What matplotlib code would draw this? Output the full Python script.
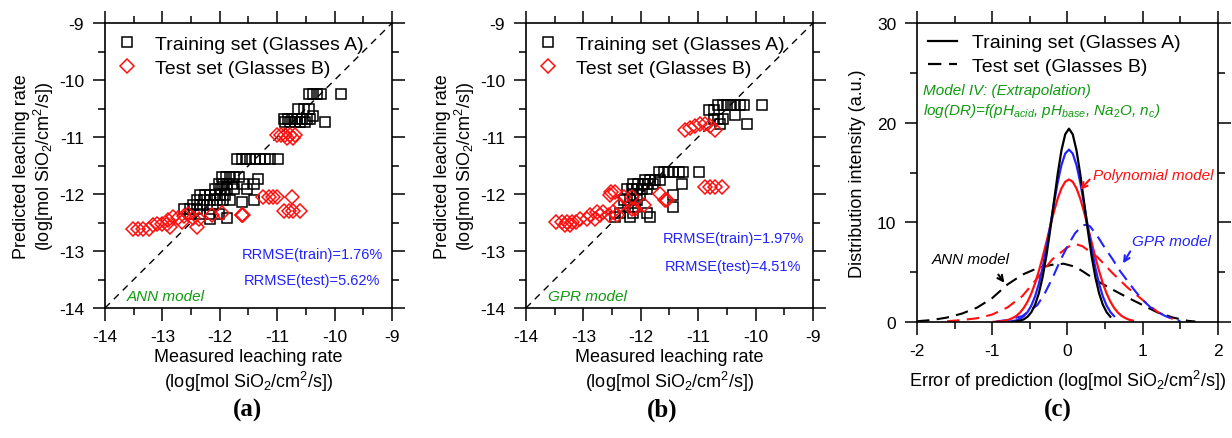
import matplotlib
matplotlib.use("Agg")
import matplotlib.pyplot as plt
from matplotlib.lines import Line2D
from matplotlib.ticker import MultipleLocator

plt.rcParams['font.family'] = ['Liberation Sans', 'DejaVu Sans']
plt.rcParams['mathtext.fontset'] = 'custom'
plt.rcParams['mathtext.rm'] = 'Liberation Sans'
plt.rcParams['mathtext.it'] = 'Liberation Sans:italic'
plt.rcParams['axes.unicode_minus'] = False

# ---- panel (a): ANN model, measured vs predicted ----
ann_train_meas = [-10.45, -10.38, -10.31, -10.23, -9.89,
                  -10.63, -10.54, -10.45,
                  -10.89, -10.82, -10.74, -10.66, -10.57, -10.48, -10.42,
                  -10.86, -10.77, -10.69, -10.60, -10.51, -10.16, -10.37,
                  -11.70, -11.62, -11.54, -11.47, -11.38, -11.30, -11.21, -11.12, -10.99,
                  -11.97, -11.89, -11.82, -11.75, -11.67, -11.33,
                  -12.02, -11.94, -11.87, -11.79, -11.59, -11.41,
                  -12.08, -11.98, -11.88, -11.76, -11.53,
                  -12.34, -12.26, -12.17, -12.08, -11.99, -11.91,
                  -12.40, -12.28, -12.17, -12.05, -11.94, -11.82, -11.62, -11.41,
                  -12.46, -12.34, -12.23, -12.11,
                  -12.63, -12.52, -12.40,
                  -12.52, -12.34, -12.17, -12.02,
                  -11.88, -12.17]
ann_train_pred = [-10.24, -10.24, -10.24, -10.24, -10.24,
                  -10.50, -10.50, -10.50,
                  -10.68, -10.68, -10.68, -10.68, -10.68, -10.68, -10.68,
                  -10.74, -10.74, -10.74, -10.74, -10.74, -10.74, -10.63,
                  -11.39, -11.39, -11.39, -11.39, -11.39, -11.39, -11.39, -11.39, -11.39,
                  -11.70, -11.70, -11.70, -11.70, -11.70, -11.74,
                  -11.82, -11.82, -11.82, -11.82, -11.82, -11.82,
                  -11.91, -11.91, -11.91, -11.91, -11.91,
                  -12.02, -12.02, -12.02, -12.02, -12.02, -12.02,
                  -12.11, -12.11, -12.11, -12.11, -12.11, -12.11, -12.14, -12.11,
                  -12.20, -12.20, -12.20, -12.20,
                  -12.26, -12.26, -12.26,
                  -12.35, -12.35, -12.35, -12.35,
                  -12.42, -12.43]
ann_test_meas = [-11.01, -10.94, -10.86, -10.77, -10.69, -10.83, -10.73,
                 -11.24, -11.15, -11.08, -11.01, -10.74,
                 -10.89, -10.80, -10.72, -10.60,
                 -11.62, -11.62, -11.59, -11.97, -12.14,
                 -12.90, -12.81, -12.72, -12.63, -12.55, -12.46, -12.37,
                 -13.10, -13.01, -12.92, -12.40, -12.87,
                 -13.51, -13.42, -13.33, -13.24, -13.16, -12.66]
ann_test_pred = [-10.97, -10.97, -10.97, -10.97, -10.97, -11.02, -11.02,
                 -12.05, -12.05, -12.05, -12.05, -12.05,
                 -12.30, -12.30, -12.30, -12.30,
                 -12.36, -12.36, -12.36, -12.33, -12.37,
                 -12.45, -12.40, -12.42, -12.38, -12.35, -12.42, -12.44,
                 -12.52, -12.52, -12.52, -12.58, -12.58,
                 -12.61, -12.61, -12.61, -12.61, -12.55, -12.49]

# ---- panel (b): GPR model ----
gpr_train_meas = [-10.65, -10.57, -10.50, -10.43, -10.35, -10.28, -10.21, -9.89,
                  -10.82, -10.73, -10.35,
                  -10.73, -10.65, -10.56, -10.15, -10.62,
                  -11.69, -11.60, -11.52, -11.43, -11.34, -11.26, -10.98,
                  -11.92, -11.84, -11.75, -11.66,
                  -12.13, -12.04, -11.95, -11.87, -11.78, -11.28,
                  -12.24, -12.16, -12.07, -11.98, -11.90,
                  -11.43, -12.13, -12.01,
                  -12.30, -12.19, -12.07,
                  -11.43, -12.22, -12.10,
                  -12.36, -12.13, -11.90,
                  -12.45, -12.19, -11.84]
gpr_train_pred = [-10.43, -10.43, -10.43, -10.43, -10.43, -10.43, -10.43, -10.43,
                  -10.53, -10.53, -10.61,
                  -10.68, -10.68, -10.68, -10.77, -10.77,
                  -11.61, -11.61, -11.61, -11.61, -11.61, -11.61, -11.61,
                  -11.76, -11.76, -11.76, -11.76,
                  -11.82, -11.82, -11.82, -11.82, -11.82, -11.82,
                  -11.91, -11.91, -11.91, -11.91, -11.91,
                  -12.02, -12.02, -12.02,
                  -12.11, -12.11, -12.11,
                  -12.23, -12.23, -12.23,
                  -12.33, -12.33, -12.33,
                  -12.40, -12.40, -12.40]
gpr_test_meas = [-11.23, -11.14, -11.05, -10.97, -10.88, -10.79, -10.70,
                 -10.88, -10.79, -10.70, -10.59,
                 -11.66, -11.58, -11.55,
                 -12.51, -12.45, -12.53, -12.16, -12.30, -11.95, -12.36, -12.16, -12.10,
                 -12.77, -12.65, -12.48,
                 -12.88, -12.71, -12.56, -12.42,
                 -13.06, -12.94, -12.80,
                 -13.47, -13.38, -13.29, -13.20, -13.12,
                 -13.32, -13.24]
gpr_test_pred = [-10.88, -10.85, -10.80, -10.78, -10.77, -10.80, -10.88,
                 -11.88, -11.88, -11.88, -11.88,
                 -12.00, -12.11, -12.11,
                 -11.96, -11.96, -12.02, -12.05, -12.05, -12.20, -12.20, -12.26, -12.26,
                 -12.32, -12.32, -12.32,
                 -12.37, -12.37, -12.37, -12.37,
                 -12.43, -12.43, -12.43,
                 -12.49, -12.49, -12.49, -12.49, -12.49,
                 -12.54, -12.54]

ticks_ab = [-14, -13, -12, -11, -10, -9]

# ---- panel (c): error distributions ----
ann_train_err_x = [-0.73, -0.68, -0.63, -0.58, -0.53, -0.48, -0.43, -0.38, -0.33, -0.28,
                   -0.23, -0.18, -0.13, -0.08, -0.03, 0.02, 0.07, 0.12, 0.17, 0.22,
                   0.27, 0.32, 0.37, 0.42, 0.47, 0.52, 0.57]
ann_train_err_y = [0.02, 0.06, 0.13, 0.27, 0.53, 0.99, 1.74, 2.89, 4.52, 6.65,
                   9.22, 12.05, 14.84, 17.22, 18.83, 19.4, 18.83, 17.22, 14.84, 12.05,
                   9.22, 6.65, 4.52, 2.89, 1.74, 0.99, 0.53]
gpr_train_err_x = [-0.78, -0.73, -0.68, -0.63, -0.58, -0.53, -0.48, -0.43, -0.38, -0.33,
                   -0.28, -0.23, -0.18, -0.13, -0.08, -0.03, 0.02, 0.07, 0.12, 0.17,
                   0.22, 0.27, 0.32, 0.37, 0.42, 0.47, 0.52, 0.57, 0.62]
gpr_train_err_y = [0.04, 0.09, 0.17, 0.33, 0.59, 1.01, 1.65, 2.58, 3.84, 5.47,
                   7.42, 9.61, 11.88, 14.00, 15.75, 16.90, 17.3, 16.90, 15.75, 14.00,
                   11.88, 9.61, 7.42, 5.47, 3.84, 2.58, 1.65, 1.01, 0.59]
poly_train_err_x = [-0.98, -0.93, -0.88, -0.83, -0.78, -0.73, -0.68, -0.63, -0.58, -0.53,
                    -0.48, -0.43, -0.38, -0.33, -0.28, -0.23, -0.18, -0.13, -0.08, -0.03,
                    0.02, 0.07, 0.12, 0.17, 0.22, 0.27, 0.32, 0.37, 0.42, 0.47,
                    0.52, 0.57, 0.62, 0.67, 0.72, 0.77, 0.82, 0.87]
poly_train_err_y = [0.02, 0.04, 0.08, 0.14, 0.23, 0.39, 0.61, 0.95, 1.42, 2.05,
                    2.87, 3.89, 5.12, 6.51, 8.02, 9.57, 11.06, 12.38, 13.41, 14.07,
                    14.3, 14.07, 13.41, 12.38, 11.06, 9.57, 8.02, 6.51, 5.12, 3.89,
                    2.87, 2.05, 1.42, 0.95, 0.61, 0.39, 0.23, 0.14]
ann_test_err_x = [-2.0, -1.8, -1.6, -1.4, -1.2, -1.0, -0.8, -0.6, -0.4, -0.2,
                  -0.05, 0.1, 0.2, 0.4, 0.6, 0.8, 1.0, 1.2, 1.4, 1.6, 1.7]
ann_test_err_y = [0.08, 0.2, 0.45, 0.85, 1.45, 2.4, 3.75, 4.75, 5.4, 5.75,
                  5.85, 5.55, 5.1, 4.1, 3.25, 2.45, 1.7, 0.95, 0.45, 0.12, 0.05]
poly_test_err_x = [-1.6, -1.4, -1.2, -1.0, -0.8, -0.6, -0.4, -0.2, 0.0, 0.1,
                   0.2, 0.4, 0.6, 0.8, 1.0, 1.2, 1.4]
poly_test_err_y = [0.08, 0.2, 0.38, 0.75, 1.45, 2.6, 4.4, 6.3, 7.5, 7.85,
                   7.6, 6.5, 4.9, 3.45, 2.2, 1.0, 0.3]
gpr_test_err_x = [-0.95, -0.8, -0.6, -0.4, -0.3, -0.2, -0.1, 0.0, 0.1, 0.2,
                  0.25, 0.3, 0.4, 0.5, 0.6, 0.7, 0.8, 0.9, 1.0, 1.1,
                  1.2, 1.3, 1.4, 1.5]
gpr_test_err_y = [0.05, 0.2, 0.6, 1.7, 2.9, 4.4, 6.1, 7.6, 8.9, 9.7,
                  9.75, 9.6, 8.6, 7.4, 6.3, 5.1, 4.1, 3.1, 2.2, 1.5,
                  1.0, 0.6, 0.3, 0.1]

GREEN = '#109a10'
BLUE = '#2222ff'
RED = '#ff1010'
UNIT = '(log[mol SiO$_2$/cm$^2$/s])'

fig = plt.figure(figsize=(12.32, 4.39), dpi=100)
ax_a = fig.add_axes([0.0852, 0.2961, 0.2330, 0.6492])
ax_b = fig.add_axes([0.4269, 0.2961, 0.2330, 0.6492])
ax_c = fig.add_axes([0.7443, 0.2642, 0.2443, 0.6811])


def style_axes(ax):
    for s in ax.spines.values():
        s.set_linewidth(1.2)
    ax.tick_params(which='both', direction='out', top=True, right=True,
                   width=1.1, labelsize=12.5, pad=6)
    ax.tick_params(which='major', length=9)
    ax.tick_params(which='minor', length=5)


panels = [
    (ax_a, ann_train_meas, ann_train_pred, ann_test_meas, ann_test_pred,
     'RRMSE(train)=1.76%', 'RRMSE(test)=5.62%', 'ANN model', -13.05, -13.51),
    (ax_b, gpr_train_meas, gpr_train_pred, gpr_test_meas, gpr_test_pred,
     'RRMSE(train)=1.97%', 'RRMSE(test)=4.51%', 'GPR model', -12.77, -13.26),
]
for ax, tr_x, tr_y, te_x, te_y, train_txt, test_txt, name, y1, y2 in panels:
    ax.plot(ticks_ab, ticks_ab, color='black', lw=1.0, ls=(0, (5, 4)), zorder=1)
    ax.plot(tr_x, tr_y, ls='none', marker='s', ms=7.5, mfc='none', mec='black',
            mew=1.1, zorder=2)
    ax.plot(te_x, te_y, ls='none', marker='D', ms=7, mfc='none', mec=RED,
            mew=1.1, zorder=3)
    ax.set_xlim(-14, -9)
    ax.set_ylim(-14, -9)
    ax.set_xticks(ticks_ab)
    ax.set_yticks(ticks_ab)
    ax.xaxis.set_minor_locator(MultipleLocator(0.5))
    ax.yaxis.set_minor_locator(MultipleLocator(0.5))
    style_axes(ax)
    ax.set_xlabel('Measured leaching rate\n' + UNIT, fontsize=13,
                  linespacing=1.2, labelpad=3)
    ax.set_ylabel('Predicted leaching rate\n' + UNIT, fontsize=13,
                  linespacing=1.1, labelpad=2)
    handles = [Line2D([], [], ls='none', marker='s', ms=7.5, mfc='none', mec='black', mew=1.1),
               Line2D([], [], ls='none', marker='D', ms=7, mfc='none', mec=RED, mew=1.1)]
    ax.legend(handles, ['Training set (Glasses A)', 'Test set (Glasses B)'],
              loc='upper left', frameon=False, fontsize=14, handlelength=1.0,
              handletextpad=0.9, labelspacing=0.3, borderaxespad=0.3,
              borderpad=0.35)
    ax.text(-11.61, y1, train_txt, color=BLUE, fontsize=10.5, va='center')
    ax.text(-11.59, y2, test_txt, color=BLUE, fontsize=10.5, va='center')
    ax.text(-13.62, -13.79, name, color=GREEN, fontsize=11, style='italic',
            va='center')

# panel (c)
dash = (0, (6, 3.5))
ax_c.plot(ann_test_err_x, ann_test_err_y, color='black', lw=1.5, ls=dash)
ax_c.plot(poly_test_err_x, poly_test_err_y, color=RED, lw=1.5, ls=dash)
ax_c.plot(gpr_test_err_x, gpr_test_err_y, color=BLUE, lw=1.5, ls=dash)
ax_c.plot(poly_train_err_x, poly_train_err_y, color=RED, lw=1.6)
ax_c.plot(gpr_train_err_x, gpr_train_err_y, color=BLUE, lw=1.6)
ax_c.plot(ann_train_err_x, ann_train_err_y, color='black', lw=1.6)
ax_c.set_xlim(-2, 2)
ax_c.set_ylim(0, 30)
ax_c.set_xticks([-2, -1, 0, 1, 2])
ax_c.set_yticks([0, 10, 20, 30])
ax_c.xaxis.set_minor_locator(MultipleLocator(0.5))
ax_c.yaxis.set_minor_locator(MultipleLocator(5))
style_axes(ax_c)
ax_c.set_xlabel('Error of prediction ' + UNIT, fontsize=13, labelpad=7)
ax_c.set_ylabel('Distribution intensity (a.u.)', fontsize=13, labelpad=8)
handles_c = [Line2D([], [], color='black', lw=1.6),
             Line2D([], [], color='black', lw=1.6, ls=dash)]
ax_c.legend(handles_c, ['Training set (Glasses A)', 'Test set (Glasses B)'],
            loc='upper left', frameon=False, fontsize=14, handlelength=1.5,
            handletextpad=0.8, labelspacing=0.3, borderaxespad=0.3, borderpad=0.25)
ax_c.text(-1.92, 23.3, 'Model IV: (Extrapolation)', color=GREEN, fontsize=11,
          style='italic', va='center')
ax_c.text(-1.92, 21.3, 'log(DR)=f(pH$_{acid}$, pH$_{base}$, Na$_{2}$O, n$_{c}$)',
          color=GREEN, fontsize=11, style='italic', va='center')
ax_c.text(0.34, 14.77, 'Polynomial model', color=RED, fontsize=11, style='italic', va='center')
ax_c.annotate('', xy=(0.144, 13.07), xytext=(0.32, 14.5),
              arrowprops=dict(arrowstyle='->', color=RED, lw=1.5))
ax_c.text(0.857, 8.12, 'GPR model', color=BLUE, fontsize=11, style='italic', va='center')
ax_c.annotate('', xy=(0.72, 5.65), xytext=(0.853, 7.32),
              arrowprops=dict(arrowstyle='->', color=BLUE, lw=1.5))
ax_c.text(-1.80, 6.3, 'ANN model', color='black', fontsize=11, style='italic', va='center')
ax_c.annotate('', xy=(-0.817, 3.71), xytext=(-0.941, 4.98),
              arrowprops=dict(arrowstyle='->', color='black', lw=1.5))

for xc, lab in [(248, '(a)'), (662, '(b)'), (1058, '(c)')]:
    fig.text(xc / 1232, 0.066, lab, ha='center', va='center', fontsize=18,
             fontweight='bold', family='Liberation Serif')

fig.savefig('out.png', dpi=100)
